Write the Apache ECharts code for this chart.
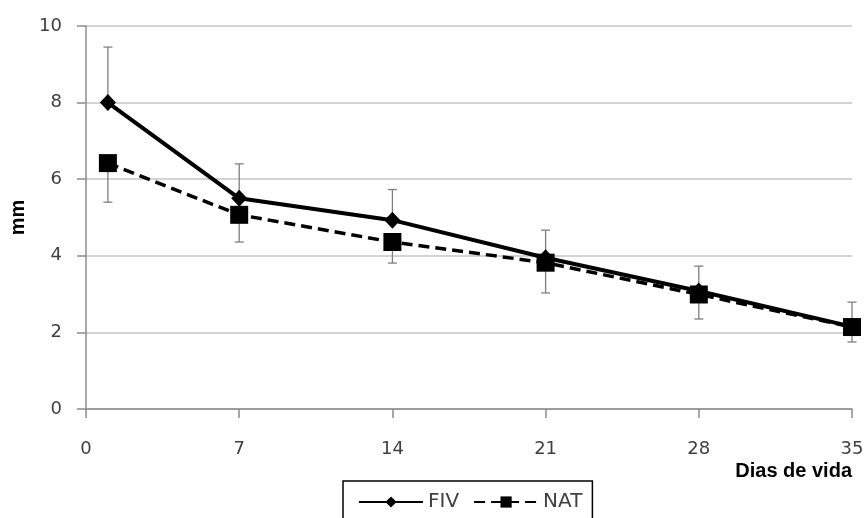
<!DOCTYPE html>
<html>
<head>
<meta charset="utf-8">
<script src="https://cdn.jsdelivr.net/npm/echarts@6/dist/echarts.min.js"></script>
<style>
  html, body { margin: 0; padding: 0; background: #fff; }
  #chart { width: 868px; height: 518px; }
</style>
</head>
<body>
<div id="chart"></div>
<script>
// Days of life at which measurements were taken
const days = [1, 7, 14, 21, 28, 35];
// FIV group: mean (mm) and upper deviation
const fivMean = [8.0, 5.5, 4.93, 3.95, 3.08, 2.15];
const fivDev = [1.45, 0.9, 0.8, 0.72, 0.65, 0.64];
// NAT group: mean (mm) and lower deviation
const natMean = [6.42, 5.07, 4.36, 3.82, 2.99, 2.14];
const natDev = [1.02, 0.71, 0.55, 0.79, 0.64, 0.39];
const xTicks = [0, 7, 14, 21, 28, 35];

const fivPoints = days.map((d, i) => [d, fivMean[i]]);
const natPoints = days.map((d, i) => [d, natMean[i]]);
// error bar rows: [day, low, high]
const fivBars = days.map((d, i) => [d, fivMean[i], fivMean[i] + fivDev[i]]);
const natBars = days.map((d, i) => [d, natMean[i] - natDev[i], natMean[i]]);

function errorBar(params, api) {
  const x = api.value(0);
  const lo = api.coord([x, api.value(1)]);
  const hi = api.coord([x, api.value(2)]);
  const cap = 4.5;
  const style = { stroke: '#7f7f7f', lineWidth: 1.3 };
  return {
    type: 'group',
    children: [
      { type: 'line', shape: { x1: lo[0], y1: lo[1], x2: hi[0], y2: hi[1] }, style },
      { type: 'line', shape: { x1: hi[0] - cap, y1: hi[1], x2: hi[0] + cap, y2: hi[1] }, style },
      { type: 'line', shape: { x1: lo[0] - cap, y1: lo[1], x2: lo[0] + cap, y2: lo[1] }, style }
    ]
  };
}

const chart = echarts.init(document.getElementById('chart'), null, { renderer: 'canvas' });
const textColor = '#404040';
const font = 'DejaVu Sans';
const boldFont = 'Liberation Sans';

chart.setOption({
  animation: false,
  backgroundColor: '#ffffff',
  grid: { left: 86, right: 16, top: 26, bottom: 109, containLabel: false, outerBoundsMode: 'none' },
  legend: {
    data: ['FIV', 'NAT'],
    left: 343,
    top: 481,
    padding: [11, 10, 30, 15],
    borderColor: '#000',
    borderWidth: 1.5,
    itemGap: 14,
    itemWidth: 64,
    itemHeight: 14,
    textStyle: { color: textColor, fontSize: 20, fontFamily: font }
  },
  xAxis: {
    type: 'value',
    min: 0,
    max: 35,
    interval: 7,
    name: 'Dias de vida',
    nameLocation: 'end',
    nameGap: 0,
    nameMoveOverlap: false,
    nameTextStyle: {
      color: '#000', fontSize: 20, fontWeight: 'bold', fontFamily: boldFont,
      align: 'right', verticalAlign: 'top', padding: [52, 0, 0, 0]
    },
    axisLine: { lineStyle: { color: '#8c8c8c', width: 1.5 } },
    axisTick: { show: true, inside: false, length: 9, lineStyle: { color: '#8c8c8c', width: 1.5 } },
    axisLabel: {
      color: textColor, fontSize: 18, fontFamily: font, margin: 31,
      formatter: v => xTicks.includes(v) ? String(v) : ''
    },
    splitLine: { show: false }
  },
  yAxis: {
    type: 'value',
    min: 0,
    max: 10,
    interval: 2,
    name: 'mm',
    nameLocation: 'middle',
    nameGap: 57,
    nameRotate: 90,
    nameTextStyle: { color: '#000', fontSize: 20, fontWeight: 'bold', fontFamily: boldFont },
    axisLine: { show: true, lineStyle: { color: '#8c8c8c', width: 1.5 } },
    axisTick: { show: true, inside: false, length: 9, lineStyle: { color: '#8c8c8c', width: 1.5 } },
    axisLabel: { color: textColor, fontSize: 18, fontFamily: font, margin: 24 },
    splitLine: { show: true, lineStyle: { color: '#c4c4c4', width: 1.5 } }
  },
  series: [
    {
      name: 'FIV-err',
      type: 'custom',
      renderItem: errorBar,
      data: fivBars,
      encode: { x: 0, y: [1, 2] },
      z: 1,
      silent: true
    },
    {
      name: 'NAT-err',
      type: 'custom',
      renderItem: errorBar,
      data: natBars,
      encode: { x: 0, y: [1, 2] },
      z: 1,
      silent: true
    },
    {
      name: 'NAT',
      type: 'line',
      data: natPoints,
      symbol: 'rect',
      symbolSize: 18,
      itemStyle: { color: '#000' },
      lineStyle: { color: '#000', width: 3.5, type: [11, 6] },
      z: 3
    },
    {
      name: 'FIV',
      type: 'line',
      data: fivPoints,
      symbol: 'diamond',
      symbolSize: [16, 17],
      itemStyle: { color: '#000' },
      lineStyle: { color: '#000', width: 4 },
      z: 4
    }
  ]
});
</script>
</body>
</html>
